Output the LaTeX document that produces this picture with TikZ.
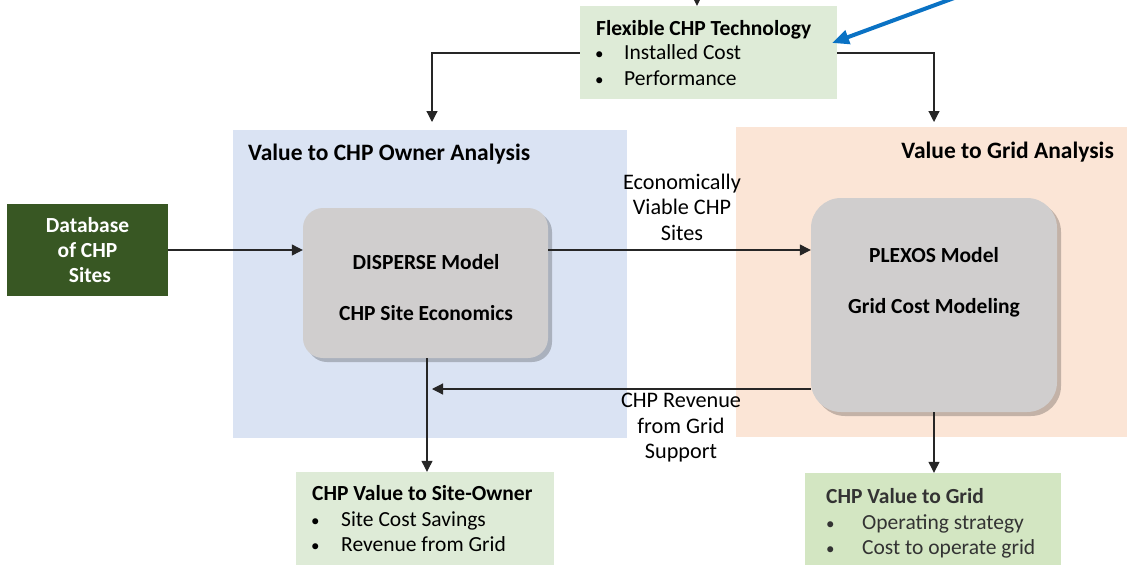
\documentclass[tikz,border=0pt]{standalone}
\usepackage{fontspec}
\setmainfont{Carlito}
\usetikzlibrary{arrows.meta,shadows}
\definecolor{lgreen}{HTML}{DEEBD7}
\definecolor{lgreen2}{HTML}{D3E6C2}
\definecolor{dgreen}{HTML}{385723}
\definecolor{lblue}{HTML}{DAE3F3}
\definecolor{lorange}{HTML}{FBE5D6}
\definecolor{mgray}{HTML}{D0CECE}
\definecolor{arrblue}{HTML}{0A72C4}
\tikzset{
  txt/.style={font=\fontsize{21.5}{25.5}\selectfont, inner sep=0pt, text=black},
  btxt/.style={txt, font=\fontsize{21.5}{25.5}\selectfont\bfseries},
  rtxt/.style={txt, font=\fontsize{23.5}{28}\selectfont\bfseries},
  ltxt/.style={txt, font=\fontsize{22.2}{25.5}\selectfont},
  bul/.style={txt, font=\fontsize{17}{20}\selectfont},
  region/.style={draw=none, inner sep=0pt},
  greenbox/.style={fill=lgreen, draw=none, inner sep=0pt},
  model/.style={fill=mgray, draw=none, inner sep=0pt, drop shadow={shadow xshift=4pt, shadow yshift=-4pt, fill=black, opacity=0.22}},
  arr/.style={draw=black!85, line width=1.2pt, -{Triangle[length=11pt,width=11pt]}},
}
\begin{document}
\begin{tikzpicture}[x=1pt,y=-1pt]
\useasboundingbox (0,0) rectangle (1128,565);
\clip (0,0) rectangle (1128,565);
% regions
\node[region, fill=lblue, minimum width=394pt, minimum height=308pt] (ownreg) at (430,284) {};
\node[region, fill=lorange, minimum width=391pt, minimum height=310pt] (gridreg) at (931.5,282) {};
\node[rtxt, anchor=base west] (owntitle) at (248,160) {Value to CHP Owner Analysis};
\node[rtxt, anchor=base east] (gridtitle) at (1114,158) {Value to Grid Analysis};
% top technology box
\node[greenbox, minimum width=257pt, minimum height=93pt] (tech) at (708.5,52.5) {};
\node[btxt, anchor=base west] (techtitle) at (596,35.5) {Flexible CHP Technology};
\node[bul, anchor=base west] (techb1) at (595,59.5) {•};
\node[txt, anchor=base west] (techt1) at (624,59.5) {Installed Cost};
\node[bul, anchor=base west] (techb2) at (595,85.5) {•};
\node[txt, anchor=base west] (techt2) at (624,85.5) {Performance};
% database
\node[fill=dgreen, minimum width=161pt, minimum height=92pt, inner sep=0pt, align=center, font=\fontsize{21.5}{25}\selectfont\bfseries, text=white] (db) at (87.5,250) {Database\\of CHP\\\ Sites};
% model boxes
\node[model, rounded corners=20pt, minimum width=245pt, minimum height=150pt] (disperse) at (425.5,283) {};
\node[btxt, align=center] (disptext) at (426,288) {DISPERSE Model\\[25.5pt]CHP Site Economics};
\node[model, rounded corners=30pt, minimum width=246pt, minimum height=214pt] (plexos) at (934,305) {};
\node[btxt, align=center] (plextext) at (934,282) {PLEXOS Model\\[25.5pt]Grid Cost Modeling};
% bottom boxes
\node[greenbox, minimum width=258pt, minimum height=93pt] (sitebox) at (425,518.5) {};
\node[btxt, anchor=base west] (sitetitle) at (312,500.5) {CHP Value to Site-Owner};
\node[bul, anchor=base west] (siteb1) at (311,526.5) {•};
\node[txt, anchor=base west] (sitet1) at (341,526.5) {Site Cost Savings};
\node[bul, anchor=base west] (siteb2) at (311,551.5) {•};
\node[txt, anchor=base west] (sitet2) at (341,551.5) {Revenue from Grid};
\node[greenbox, fill=lgreen2, minimum width=256pt, minimum height=92pt] (gridbox) at (933,519) {};
\node[btxt, anchor=base west, text=black!80] (gridtitle2) at (826,503.5) {CHP Value to Grid};
\node[bul, anchor=base west, text=black!80] (gridb1) at (826,529.5) {•};
\node[txt, anchor=base west, text=black!80] (gridt1) at (862,529.5) {Operating strategy};
\node[bul, anchor=base west, text=black!80] (gridb2) at (826,554.5) {•};
\node[txt, anchor=base west, text=black!80] (gridt2) at (862,554.5) {Cost to operate grid};
% connector labels
\node[ltxt, align=center] (econ) at (682,207) {Economically\\Viable CHP\\Sites};
\node[ltxt, align=center] (rev) at (681,428) {CHP Revenue\\from Grid\\Support};
% coordinates
\coordinate (topsrc) at (697,-20);
\coordinate (ownin) at (432,122);
\coordinate (gridin) at (934,122);
\coordinate (retend) at (432,389);
\coordinate (bluesrc) at (965,-6);
\coordinate (bluetip) at (832,43);
% connectors
\draw[arr] (topsrc) -- (topsrc |- tech.north);
\draw[arr] (tech.west |- 0,53) -| (ownin);
\draw[arr] (tech.east |- 0,53) -| (gridin);
\draw[arr] (db.east) -- (db.east -| disperse.west);
\draw[arr] (disperse.east |- db.east) -- (plexos.west |- db.east);
\draw[arr] (plexos.west |- retend) -- (retend);
\draw[arr] (disperse.south -| 427,0) -- (sitebox.north -| 427,0);
\draw[arr] (plexos.south) -- (gridbox.north -| plexos.south);
\draw[draw=arrblue, line width=4pt, -{Triangle[length=17pt,width=14pt]}] (bluesrc) -- (bluetip);
\end{tikzpicture}
\end{document}
